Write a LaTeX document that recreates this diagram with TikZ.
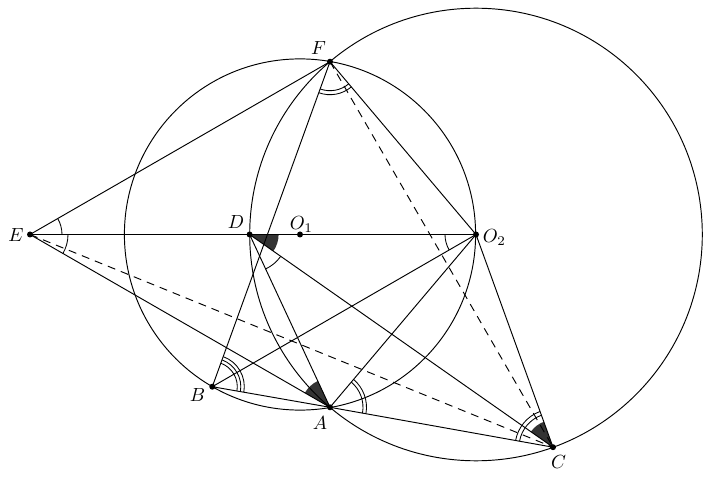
\documentclass[tikz,border=0pt]{standalone}
\usetikzlibrary{angles}
\begin{document}
\begin{tikzpicture}[x=1pt,y=1pt,line width=0.95pt,
  dot/.style={circle,fill=black,inner sep=0pt,minimum size=6pt},
  lbl/.style={inner sep=0pt,transform shape,scale=1.9},
  dsh/.style={dash pattern=on 8pt off 6pt},
  mk/.style={draw,line width=0.85pt},
  fl/.style={fill=black!80}]
\useasboundingbox (0,0) rectangle (707,477);
% points
\coordinate (E) at (30,242.5);
\coordinate (D) at (249.6,242.5);
\coordinate (O1) at (300,242.5);
\coordinate (O2) at (476,242.5);
\coordinate (F) at (330,415.3);
\coordinate (A) at (330,69.7);
\coordinate (B) at (212.3,90.3);
\coordinate (C) at (553,29.8);
% filled angles
\pic[fl,angle radius=29pt] {angle=C--D--O2};
\pic[fl,angle radius=29pt] {angle=D--A--E};
\pic[fl,angle radius=27pt] {angle=O2--C--D};
% circles
\draw (O1) circle[radius=175.6pt];
\draw (O2) circle[radius=226.3pt];
% lines
\draw (E) -- (F);
\draw (E) -- (O2);
\draw (E) -- (A);
\draw[dsh] (E) -- (C);
\draw (F) -- (B);
\draw (F) -- (O2);
\draw[dsh] (F) -- (C);
\draw (D) -- (A);
\draw (D) -- (C);
\draw (B) -- (O2);
\draw (B) -- (A);
\draw (A) -- (O2);
\draw (A) -- (C);
\draw (O2) -- (C);
% angle marks
\pic[mk,angle radius=32pt] {angle=O2--E--F};
\pic[mk,angle radius=38pt] {angle=A--E--O2};
\pic[mk,angle radius=38pt] {angle=A--D--C};
\pic[mk,angle radius=29pt] {angle=B--F--O2};
\pic[mk,angle radius=33pt] {angle=B--F--O2};
\pic[mk,angle radius=25pt] {angle=A--B--F};
\pic[mk,angle radius=28.5pt] {angle=A--B--F};
\pic[mk,angle radius=32pt] {angle=A--B--F};
\pic[mk,angle radius=33pt] {angle=C--A--O2};
\pic[mk,angle radius=36.5pt] {angle=C--A--O2};
\pic[mk,angle radius=34pt] {angle=O2--C--A};
\pic[mk,angle radius=38pt] {angle=O2--C--A};
\pic[mk,angle radius=31pt] {angle=D--O2--B};
% dots
\foreach \p in {E,D,O1,O2,F,A,B,C} \node[dot] (d\p) at (\p) {};
% labels
\node[lbl] (lE) at (16,241.5) {$E$};
\node[lbl] (lD) at (236,254.5) {$D$};
\node[lbl,anchor=base west] (lO1) at (289,247) {$O_1$};
\node[lbl,anchor=base west] (lO2) at (482,234) {$O_2$};
\node[lbl] (lF) at (318.5,428.5) {$F$};
\node[lbl] (lB) at (197.5,81.5) {$B$};
\node[lbl] (lA) at (320,53.5) {$A$};
\node[lbl] (lC) at (558.5,14.5) {$C$};
\end{tikzpicture}
\end{document}
